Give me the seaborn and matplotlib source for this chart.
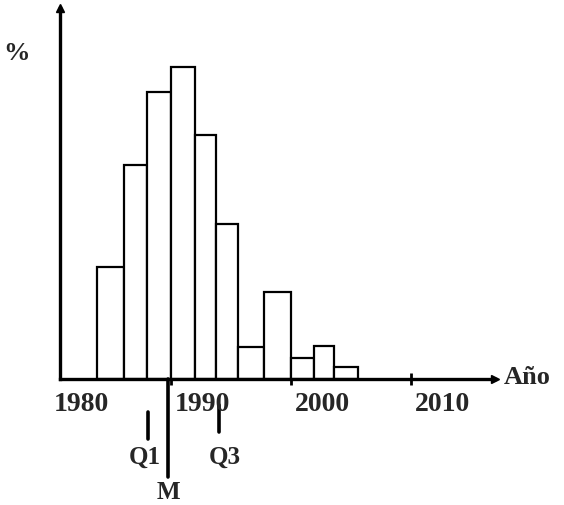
import numpy as np
import matplotlib
matplotlib.use("Agg")
import matplotlib.pyplot as plt
import seaborn as sns

# -------- Data --------
bin_edges = [1983.9, 1986.1, 1988.0, 1990.0, 1992.0, 1993.8, 1995.6,
             1997.8, 2000.0, 2001.9, 2003.6, 2005.6]
percent = [7.4, 14.2, 19.0, 20.7, 16.2, 10.3, 2.1, 5.8, 1.4, 2.2, 0.8]

tick_years = [1990, 2000, 2010]
label_years = [1980, 1990, 2000, 2010]
label_texts = ["1980", "1990", "2000", "2010"]

quartile_names = ["Q1", "M", "Q3"]
quartile_years = [1988.1, 1989.8, 1994.0]

# -------- Style --------
sns.set_style("white")
plt.rcParams["font.family"] = ["Liberation Serif", "DejaVu Serif"]
plt.rcParams["font.weight"] = "bold"

fig = plt.figure(figsize=(5.64, 5.05), dpi=100)
ax = fig.add_axes([60 / 564, 126 / 505, 435 / 564, 371 / 505])

centers = [(a + b) / 2 for a, b in zip(bin_edges[:-1], bin_edges[1:])]
sns.histplot(x=centers, weights=percent, bins=bin_edges, stat="count",
             color="white", edgecolor="black", linewidth=1.6, alpha=1, ax=ax)

ax.set_xlim(1980.78, 2017.0)
ax.set_ylim(0, 24.6)
ax.set_xlabel("")
ax.set_ylabel("")

# axes with arrow heads
for side in ["top", "right"]:
    ax.spines[side].set_visible(False)
for side in ["left", "bottom"]:
    ax.spines[side].set_linewidth(2.4)
    ax.spines[side].set_color("black")
ax.plot(1, 0, ">", color="black", markersize=6, transform=ax.transAxes, clip_on=False)
ax.plot(0, 1, "^", color="black", markersize=6, transform=ax.transAxes, clip_on=False)

ax.set_yticks([])
ax.set_xticks(tick_years)
ax.set_xticklabels([])
ax.tick_params(axis="x", bottom=True, direction="inout", length=8, width=2, color="black")

# year labels (typed a bit to the right of the marks)
trans = ax.get_xaxis_transform()
for yr, txt in zip(label_years, label_texts):
    ax.text(yr + 2.6, -0.07, txt, transform=trans, ha="center", va="center",
            fontsize=20, fontweight="bold", clip_on=False)

# quartile marks
mark_spans = {"Q1": (-0.089, -0.162), "M": (0.0, -0.264), "Q3": (-0.070, -0.143)}
label_pos = {"Q1": (-0.25, -0.21), "M": (0.0, -0.305), "Q3": (0.5, -0.21)}
for name, yr in zip(quartile_names, quartile_years):
    y0, y1 = mark_spans[name]
    ax.plot([yr, yr], [y0, y1], color="black", linewidth=2.6,
            transform=trans, clip_on=False)
    dx, ly = label_pos[name]
    ax.text(yr + dx, ly, name, transform=trans, ha="center", va="center",
            fontsize=18, fontweight="bold", clip_on=False)

fig.text(17 / 564, 1 - 53 / 505, "%", ha="center", va="center",
         fontsize=19, fontweight="bold")
fig.text(527 / 564, 1 - 378 / 505, "Año", ha="center", va="center",
         fontsize=19, fontweight="bold")

fig.savefig("out.png", dpi=100)
